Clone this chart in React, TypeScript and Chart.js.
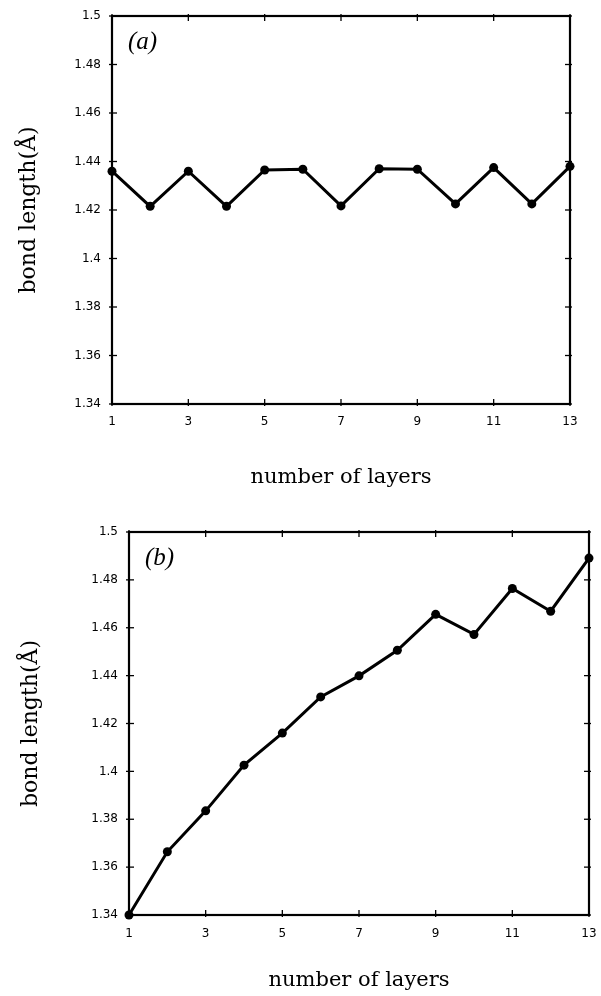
import React, { useEffect, useRef } from "react";
import { Chart, registerables } from "chart.js";

Chart.register(...registerables);

const layers = [1, 2, 3, 4, 5, 6, 7, 8, 9, 10, 11, 12, 13];
const bondA = [1.436, 1.4215, 1.436, 1.4215, 1.4365, 1.4368, 1.4217, 1.437, 1.4368, 1.4225, 1.4375, 1.4225, 1.438];
const bondB = [1.34, 1.3664, 1.3835, 1.4026, 1.416, 1.4311, 1.4399, 1.4506, 1.4656, 1.4572, 1.4764, 1.4669, 1.4891];
const yTickMin = 1.34;
const yTickMax = 1.5;
const yTickStep = 0.02;
const xTickStep = 2;
const panelLabels = ["(a)", "(b)"];
const xTitle = "number of layers";
const yTitle = "bond length(Å)";

const W = 601;
const H = 498;

const framePlugin = {
  id: "frame",
  beforeDatasetsDraw(chart: any, _args: any, opts: any) {
    const { ctx, chartArea, scales } = chart;
    const { left, right, top, bottom } = chartArea;
    const x = scales.x;
    const y = scales.y;
    ctx.save();
    ctx.strokeStyle = "#000";
    ctx.lineWidth = 1.3;
    const seg = (x1: number, y1: number, x2: number, y2: number) => {
      ctx.beginPath();
      ctx.moveTo(x1, y1);
      ctx.lineTo(x2, y2);
      ctx.stroke();
    };
    y.ticks.forEach((t: any) => {
      const py = y.getPixelForValue(t.value);
      seg(left - 3, py, left + 5, py);
      seg(right - 5, py, right + 2, py);
    });
    x.ticks.forEach((t: any) => {
      const px = x.getPixelForValue(t.value);
      seg(px, bottom + 2, px, bottom - 5);
      seg(px, top - 2, px, top + 5);
    });
    ctx.lineWidth = 2.2;
    ctx.strokeRect(left, top, right - left, bottom - top);
    ctx.fillStyle = "#000";
    ctx.font = 'italic 25px "Liberation Serif"';
    ctx.textAlign = "left";
    ctx.textBaseline = "middle";
    ctx.fillText(opts.text, left + 16, top + 26);
    ctx.restore();
  },
};

function makeChart(canvas: HTMLCanvasElement, values: number[], p: any) {
  return new Chart(canvas, {
    type: "line",
    data: {
      datasets: [
        {
          data: layers.map((l, i) => ({ x: l, y: values[i] })),
          borderColor: "#000",
          backgroundColor: "#000",
          borderWidth: 3,
          pointRadius: 4.5,
          pointBackgroundColor: "#000",
          pointBorderColor: "#000",
          pointBorderWidth: 0,
          tension: 0,
          clip: false as any,
        },
      ],
    },
    options: {
      responsive: false,
      animation: false,
      events: [],
      layout: { padding: { top: p.top, right: W - p.right, left: 0, bottom: 0 } },
      plugins: {
        legend: { display: false },
        tooltip: { enabled: false },
        frame: { text: p.label },
      } as any,
      scales: {
        x: {
          type: "linear",
          min: layers[0],
          max: layers[layers.length - 1],
          grid: { display: false },
          border: { display: false },
          ticks: {
            stepSize: xTickStep,
            autoSkip: false,
            maxRotation: 0,
            padding: p.xTickPad,
            color: "#000",
            font: { family: '"DejaVu Sans"', size: 12 },
          },
          title: {
            display: true,
            text: xTitle,
            color: "#000",
            font: { family: '"DejaVu Serif"', size: 21 },
            padding: { top: 0, bottom: p.xTitlePad },
          },
          afterFit: (s: any) => {
            s.height = H - p.bottom;
          },
        },
        y: {
          type: "linear",
          min: yTickMin,
          max: yTickMax,
          grid: { display: false },
          border: { display: false },
          ticks: {
            stepSize: yTickStep,
            autoSkip: false,
            padding: 3,
            color: "#000",
            font: { family: '"DejaVu Sans"', size: 12 },
            callback: (v: any) => String(parseFloat(Number(v).toFixed(2))),
          },
          title: {
            display: true,
            text: yTitle,
            color: "#000",
            font: { family: '"DejaVu Serif"', size: 22 },
            padding: { top: p.yTitlePad, bottom: 0 },
          },
          afterFit: (s: any) => {
            s.width = p.left;
          },
        },
      },
    },
    plugins: [framePlugin],
  } as any);
}

export default function App() {
  const refA = useRef<HTMLCanvasElement>(null);
  const refB = useRef<HTMLCanvasElement>(null);
  useEffect(() => {
    const a = makeChart(refA.current!, bondA, {
      left: 112, right: 570, top: 16, bottom: 404,
      xTickPad: 3, xTitlePad: 8, yTitlePad: 16, label: panelLabels[0],
    });
    const b = makeChart(refB.current!, bondB, {
      left: 129, right: 589, top: 34, bottom: 417,
      xTickPad: 4, xTitlePad: 3, yTitlePad: 18, label: panelLabels[1],
    });
    return () => {
      a.destroy();
      b.destroy();
    };
  }, []);
  return (
    <div style={{ position: "absolute", left: 0, top: 0, width: W, height: 2 * H, background: "#fff" }}>
      <canvas ref={refA} width={W} height={H} style={{ position: "absolute", left: 0, top: 0, width: W, height: H }} />
      <canvas ref={refB} width={W} height={H} style={{ position: "absolute", left: 0, top: H, width: W, height: H }} />
    </div>
  );
}
